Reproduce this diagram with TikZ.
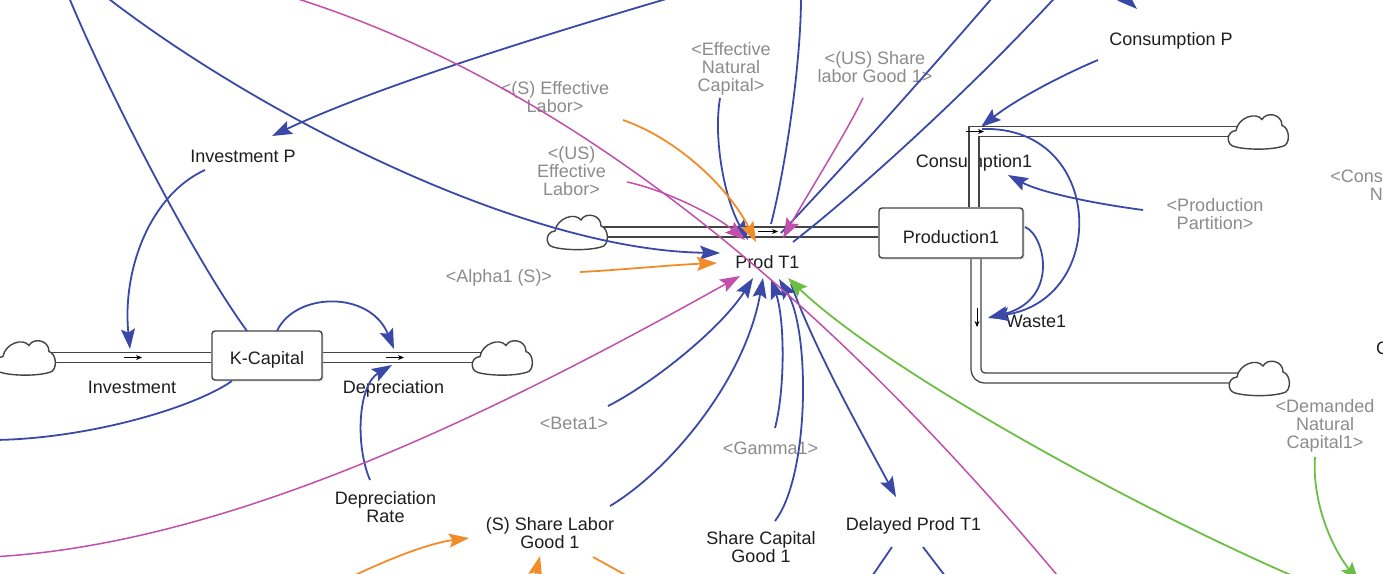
\documentclass[tikz,border=0pt]{standalone}
\usepackage{fontspec}
\setmainfont{Liberation Sans}
\usetikzlibrary{arrows.meta,shadows}
\pgfdeclarelayer{bg}
\pgfdeclarelayer{lbl}
\pgfdeclarelayer{pipe}
\pgfsetlayers{bg,lbl,pipe,main}
\definecolor{cblue}{HTML}{3A49A8}
\definecolor{cmag}{HTML}{C24FAA}
\definecolor{corange}{HTML}{F28C28}
\definecolor{cgreen}{HTML}{6DBE45}
\definecolor{cgray}{HTML}{8C8C8C}
\definecolor{ctext}{HTML}{1E1E1E}
\definecolor{cpipe}{HTML}{444444}
\tikzset{
 lab/.style={font=\fontsize{18}{18}\selectfont, text=ctext, inner sep=0pt, align=center},
 glab/.style={lab, text=cgray},
 stock/.style={draw=cpipe, line width=1.4pt, fill=white, rounded corners=3pt, inner sep=0pt,
   font=\fontsize{18}{18}\selectfont, text=ctext,
   drop shadow={opacity=0.25,shadow xshift=1.5pt,shadow yshift=-1.5pt}},
 pipe/.style={draw=cpipe, line width=1.4pt, double=white, double distance=8.6pt},
 cloudline/.style={draw=cpipe, line width=1.4pt, fill=white},
 valve/.style={draw=black, line width=1pt, -{Stealth[length=6pt,width=5pt]}},
 conn/.style={line width=1.8pt},
 tip/.style={-{Stealth[length=20pt,width=14pt,inset=3.5pt]}},
 bl/.style={conn, draw=cblue},
 mg/.style={conn, draw=cmag, line width=1.5pt},
 orr/.style={conn, draw=corange},
 gr/.style={conn, draw=cgreen},
}
\newcommand\mycloud[1]{\draw[cloudline, shift={(#1)}] (-22,-1) .. controls (-20,-14) and (-2,-20) .. (4,-12) .. controls (8,-20) and (24,-18) .. (24,-6) .. controls (32,-4) and (33,14) .. (24,15) .. controls (10,19) and (-14,18) .. (-24,15) .. controls (-32,13) and (-32,0) .. (-22,-1) -- cycle;}
\begin{document}
\begin{tikzpicture}[x=1pt,y=-1pt]
\useasboundingbox (0,0) rectangle (1383,573);
\begin{pgfonlayer}{bg}\fill[white] (0,0) rectangle (1383,573);\end{pgfonlayer}
% coordinates
\coordinate (vInv) at (132,357.5);
\coordinate (vDep) at (395,357.5);
\coordinate (vProd) at (768,232);
\coordinate (vCons) at (974,131.5);
\coordinate (vWaste) at (976,318);
\coordinate (cK1) at (25,357.5);
\coordinate (cK2) at (502,357.5);
\coordinate (cP) at (577,232);
\coordinate (cC) at (1258,131.5);
\coordinate (cW) at (1259,378);
\coordinate (oB1) at (66,-10);
\coordinate (oB2) at (100,-8);
\coordinate (oB3) at (690,-8);
\coordinate (oB5) at (-10,440);
\coordinate (oB9) at (801,-10);
\coordinate (oB10) at (999,-10);
\coordinate (oB11) at (1062,-10);
\coordinate (oB12) at (1100,-25);
\coordinate (oB21a) at (866,585);
\coordinate (oB21b) at (952,585);
\coordinate (oM1a) at (298,-1);
\coordinate (oM1b) at (1062,581);
\coordinate (oM4) at (-10,557);
\coordinate (oO3) at (345,580);
\coordinate (oO4) at (531,592);
\coordinate (oO5) at (640,583);
\coordinate (oG1) at (1300,579);
\coordinate (oG2) at (1359,582);
% labels
\begin{pgfonlayer}{lbl}
\node[lab] (invP) at (243,156.5) {Investment P};
\node[glab] (sEffLab) at (555,97.5) {<(S) Effective\\Labor>};
\node[glab] (effNat) at (731,68.5) {<Effective\\Natural\\Capital>};
\node[glab] (usShare) at (875,67) {<(US) Share\\labor Good 1>};
\node[lab] (consP) at (1171,40.5) {Consumption P};
\node[glab] (usEffLab) at (571.5,171.5) {<(US)\\Effective\\Labor>};
\node[lab] (cons1) at (974,162.5) {Consumption1};
\node[glab] (prodPart) at (1215,214) {<Production\\Partition>};
\node[glab, align=right, anchor=east] (consN) at (1383,185) {<Cons\\N};
\node[lab] (prodT1) at (767.5,262) {Prod T1};
\node[glab] (alpha) at (499,278) {<Alpha1 (S)>};
\node[lab] (waste) at (1036,321) {Waste1};
\node[lab] (invest) at (132,387.5) {Investment};
\node[lab] (deprec) at (393.5,388.5) {Depreciation};
\node[glab] (beta) at (574,423.5) {<Beta1>};
\node[glab] (gamma) at (770.5,448) {<Gamma1>};
\node[glab] (demNat) at (1325,425.5) {<Demanded\\Natural\\Capital1>};
\node[lab] (depRate) at (385.5,507.5) {Depreciation\\Rate};
\node[lab] (sShareLab) at (550,533) {(S) Share Labor\\Good 1};
\node[lab] (shareCap) at (761,547.5) {Share Capital\\Good 1};
\node[lab] (delayed) at (913.5,525.5) {Delayed Prod T1};
\node[lab, anchor=west] (cEdge) at (1376,348) {C};
\end{pgfonlayer}
% stocks
\node[stock, minimum width=110pt, minimum height=49pt, text height=17pt, text depth=0pt] (kcap) at (267,355.5) {K-Capital};
\node[stock, minimum width=144pt, minimum height=50pt, text height=20pt, text depth=0pt] (prod1) at (951,233) {Production1};
% pipes
\begin{pgfonlayer}{pipe}
\draw[pipe] (cK1) -- (kcap.west |- vInv);
\draw[pipe] (kcap.east |- vDep) -- (cK2);
\draw[pipe] (cP) -- (prod1.west |- vProd);
\draw[pipe] (prod1.north -| vCons) |- (cC);
\draw[pipe, rounded corners=9pt] (prod1.south -| vWaste) |- (cW);
\end{pgfonlayer}
% clouds
\mycloud{cK1}
\mycloud{cK2}
\mycloud{cP}
\mycloud{cC}
\mycloud{cW}
% valves
\draw[valve] ([shift={(-8,0)}]vInv) -- ([shift={(10,0)}]vInv);
\draw[valve] ([shift={(-9,0)}]vDep) -- ([shift={(9,0)}]vDep);
\draw[valve] ([shift={(-10,-0.5)}]vProd) -- ([shift={(10,-0.5)}]vProd);
\draw[valve] ([shift={(-8,0)}]vCons) -- ([shift={(10,0)}]vCons);
\draw[valve] ([shift={(1,-10)}]vWaste) -- ([shift={(1,9)}]vWaste);
% blue connectors
\draw[bl] ([shift={(-20,-24.5)}]kcap.center) .. controls (190,253) and (100,75) .. (oB1);
\draw[bl,tip] (oB2) .. controls (250,110) and (520,250) .. ([shift={(-47.5,-9)}]prodT1.center);
\draw[bl,tip] (oB3) .. controls (560,30) and (380,85) .. ([shift={(29,-20.5)}]invP.center);
\draw[bl,tip] ([shift={(-38,13.5)}]invP.center) .. controls (150,195) and (122,270) .. ([shift={(-2,-8.5)}]vInv);
\draw[bl] ([shift={(-35,25.5)}]kcap.center) .. controls (190,410) and (80,440) .. (oB5);
\draw[bl,tip] ([shift={(10,-24.5)}]kcap.center) .. controls (295,292) and (370,290) .. ([shift={(-1,-8.5)}]vDep);
\draw[bl,tip] ([shift={(-15.5,-27.5)}]depRate.center) .. controls (355,445) and (358,385) .. ([shift={(-3,7.5)}]vDep);
\draw[bl,tip] ([shift={(-11,29.5)}]effNat.center) .. controls (713,140) and (725,200) .. ([shift={(-19.5,-22)}]prodT1.center);
\draw[bl] ([shift={(3,-8)}]vProd) .. controls (785,170) and (802,60) .. (oB9);
\draw[bl] ([shift={(13.5,-29)}]prodT1.center) .. controls (850,160) and (930,70) .. (oB10);
\draw[bl] ([shift={(25.5,-20)}]prodT1.center) .. controls (860,190) and (975,85) .. (oB11);
\draw[bl,tip] ([shift={(-73,19.5)}]consP.center) .. controls (1060,76) and (1015,100) .. ([shift={(7,-4.5)}]vCons);
\draw[bl,tip] (oB12) -- ([shift={(-34,-31.5)}]consP.center);
\draw[bl,tip] ([shift={(8,-2.5)}]vCons) .. controls (1105,125) and (1110,300) .. ([shift={(-47,-4)}]waste.center);
\draw[bl,tip] ([shift={(74,-6)}]prod1.center) .. controls (1045,235) and (1060,300) .. ([shift={(-48,-3)}]waste.center);
\draw[bl,tip] ([shift={(-72,-4)}]prodPart.center) .. controls (1090,203) and (1040,192) .. ([shift={(34,12.5)}]cons1.center);
\draw[bl,tip] ([shift={(34,-17.5)}]beta.center) .. controls (650,385) and (720,330) .. ([shift={(-14.5,16)}]prodT1.center);
\draw[bl,tip] ([shift={(60,-27)}]sShareLab.center) .. controls (670,470) and (745,380) .. ([shift={(-4.5,16)}]prodT1.center);
\draw[bl,tip] ([shift={(4.5,-20)}]gamma.center) .. controls (785,390) and (785,320) .. ([shift={(3.5,17)}]prodT1.center);
\draw[bl,tip] ([shift={(14,-26.5)}]shareCap.center) .. controls (810,475) and (810,330) .. ([shift={(11.5,17)}]prodT1.center);
\draw[bl,tip] ([shift={(23.5,22)}]prodT1.center) .. controls (815,350) and (860,430) .. ([shift={(-17.5,-28.5)}]delayed.center);
\draw[bl] ([shift={(-21.5,21.5)}]delayed.center) -- (oB21a);
\draw[bl] ([shift={(9.5,21.5)}]delayed.center) -- (oB21b);
% magenta
\draw[mg] (oM1a) .. controls (551.7,80) and (803.3,271) .. (oM1b);
\draw[mg,tip] ([shift={(55.5,10.5)}]usEffLab.center) .. controls (665,190) and (715,215) .. ([shift={(-22.5,-22)}]prodT1.center);
\draw[mg,tip] ([shift={(-12,31)}]usShare.center) .. controls (845,135) and (810,190) .. ([shift={(15.5,-24)}]prodT1.center);
\draw[mg,tip] (oM4) .. controls (230,545) and (500,410) .. ([shift={(-27.5,14)}]prodT1.center);
% orange
\draw[orr,tip] ([shift={(68,22.5)}]sEffLab.center) .. controls (680,140) and (730,190) .. ([shift={(-11.5,-20)}]prodT1.center);
\draw[orr,tip] ([shift={(81,-6)}]alpha.center) .. controls (620,270) and (670,265) .. ([shift={(-50.5,1)}]prodT1.center);
\draw[orr,tip] (oO3) .. controls (390,558) and (430,543) .. ([shift={(-81,5)}]sShareLab.center);
\draw[orr,tip] (oO4) -- ([shift={(-10,23)}]sShareLab.center);
\draw[orr] ([shift={(43,24)}]sShareLab.center) -- (oO5);
% green
\draw[gr,tip] (oG1) .. controls (1150,515) and (890,375) .. ([shift={(20.5,16)}]prodT1.center);
\draw[gr,tip] ([shift={(-10,31.5)}]demNat.center) .. controls (1312,500) and (1330,545) .. (oG2);
\end{tikzpicture}
\end{document}
